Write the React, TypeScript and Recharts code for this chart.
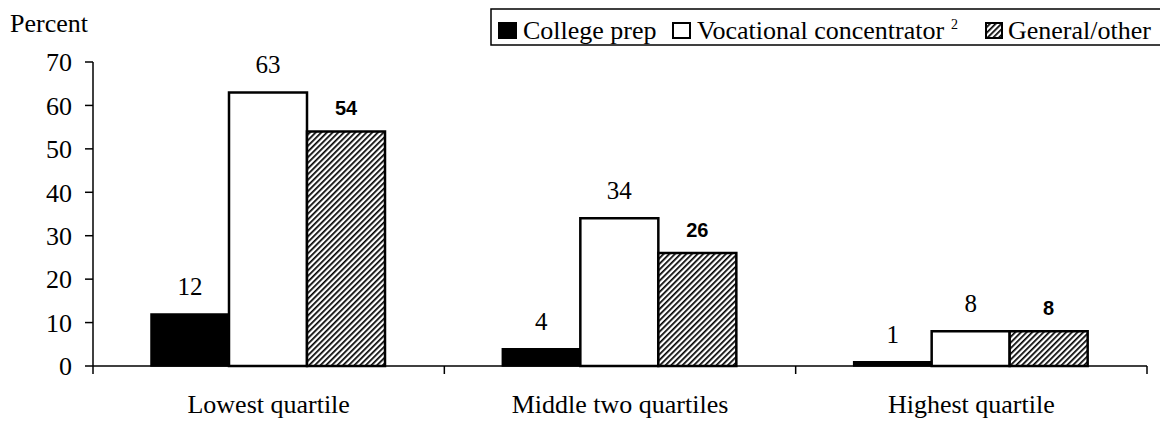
import React from "react";
import { BarChart, Bar, XAxis, YAxis, LabelList } from "recharts";

const categories = ["Lowest quartile", "Middle two quartiles", "Highest quartile"];
const collegePrep = [12, 4, 1];
const vocational = [63, 34, 8];
const generalOther = [54, 26, 8];
const yTicks = [0, 10, 20, 30, 40, 50, 60, 70];
const seriesNames = ["College prep", "Vocational concentrator", "General/other"];

const data = categories.map((c, i) => ({
  cat: c,
  cp: collegePrep[i],
  voc: vocational[i],
  gen: generalOther[i],
}));

const W = 1160;
const H = 421;
const LEFT = 93;
const RIGHT = 13;
const TOP = 62;
const XH = 55;
const SERIF = "'Liberation Serif', 'Times New Roman', serif";
const SANS = "'Liberation Sans', Arial, sans-serif";
const bandWidth = (W - LEFT - RIGHT) / categories.length;

const XTick = (props: any) => {
  const { x, y, payload, index } = props;
  const half = bandWidth / 2;
  return (
    <g>
      {index === 0 && (
        <line x1={x - half} y1={y} x2={x - half} y2={y + 8} stroke="#000" strokeWidth={1.5} />
      )}
      <line x1={x + half} y1={y} x2={x + half} y2={y + 8} stroke="#000" strokeWidth={1.5} />
      <text x={x} y={y + 47} textAnchor="middle" fontFamily={SERIF} fontSize={26} fill="#000">
        {payload.value}
      </text>
    </g>
  );
};

const Hatch = ({ id }: { id: string }) => (
  <pattern id={id} width={4} height={4} patternUnits="userSpaceOnUse" patternTransform="rotate(45)">
    <rect x={0} y={0} width={4} height={4} fill="#fff" />
    <rect x={0} y={0} width={1.7} height={4} fill="#000" />
  </pattern>
);

export default function App() {
  return (
    <div
      style={{
        position: "absolute",
        left: 0,
        top: 0,
        width: W,
        height: H,
        overflow: "hidden",
        background: "#fff",
      }}
    >
      <BarChart
        width={W}
        height={H}
        data={data}
        margin={{ top: TOP, right: RIGHT, left: 0, bottom: 0 }}
        barCategoryGap={58}
        barGap={0}
        style={{ position: "absolute", left: 0, top: 0 }}
      >
        <defs>
          <Hatch id="hatchBar" />
        </defs>
        <XAxis
          dataKey="cat"
          height={XH}
          axisLine={{ stroke: "#000", strokeWidth: 1.5 }}
          tickLine={false}
          tickSize={0}
          tickMargin={0}
          interval={0}
          tick={<XTick />}
        />
        <YAxis
          width={LEFT}
          domain={[0, 70]}
          ticks={yTicks}
          interval={0}
          axisLine={{ stroke: "#000", strokeWidth: 1.5 }}
          tickLine={{ stroke: "#000", strokeWidth: 1.5 }}
          tickSize={8}
          tickMargin={13}
          tick={{ fill: "#000", fontSize: 26, fontFamily: SERIF }}
        />
        <Bar dataKey="cp" name={seriesNames[0]} fill="#000" stroke="#000" strokeWidth={1.5} isAnimationActive={false}>
          <LabelList dataKey="cp" position="top" offset={19} fill="#000" fontSize={25} fontFamily={SERIF} />
        </Bar>
        <Bar dataKey="voc" name={seriesNames[1]} fill="#fff" stroke="#000" strokeWidth={2.5} isAnimationActive={false}>
          <LabelList dataKey="voc" position="top" offset={19} fill="#000" fontSize={25} fontFamily={SERIF} />
        </Bar>
        <Bar dataKey="gen" name={seriesNames[2]} fill="url(#hatchBar)" stroke="#000" strokeWidth={2.5} isAnimationActive={false}>
          <LabelList
            dataKey="gen"
            position="top"
            offset={16}
            fill="#000"
            fontSize={20}
            fontWeight="bold"
            fontFamily={SANS}
          />
        </Bar>
      </BarChart>
      <svg
        width={W}
        height={60}
        style={{ position: "absolute", left: 0, top: 0, pointerEvents: "none" }}
        fontFamily={SERIF}
      >
        <defs>
          <Hatch id="hatchLegend" />
        </defs>
        <text x={10} y={32} fontSize={26} fill="#000">Percent</text>
        <rect x={491} y={9} width={700} height={36} fill="none" stroke="#000" strokeWidth={1.5} />
        <rect x={498} y={22} width={19} height={17} fill="#000" />
        <text x={523} y={39} fontSize={26} fill="#000">{seriesNames[0]}</text>
        <rect x={673} y={23} width={17} height={15} fill="#fff" stroke="#000" strokeWidth={2} />
        <text x={697} y={39} fontSize={26} fill="#000">{seriesNames[1]}</text>
        <text x={951} y={29} fontSize={14} fill="#000">2</text>
        <rect x={986} y={23} width={16} height={15} fill="url(#hatchLegend)" stroke="#000" strokeWidth={2} />
        <text x={1008} y={39} fontSize={26} fill="#000">{seriesNames[2]}</text>
      </svg>
    </div>
  );
}
